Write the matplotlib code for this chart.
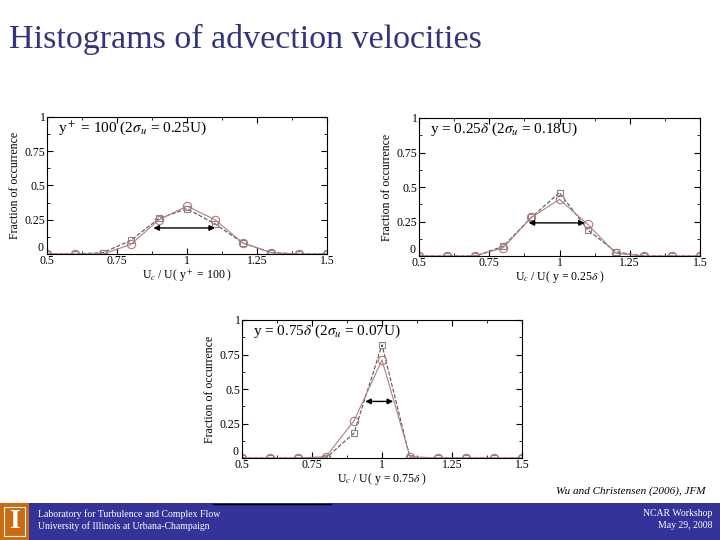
import numpy as np
import matplotlib
matplotlib.use('Agg')
import matplotlib.pyplot as plt
from matplotlib.patches import Rectangle
from matplotlib.ticker import MultipleLocator, FuncFormatter, FormatStrFormatter

# datos
x_vals = [0.5, 0.6, 0.7, 0.8, 0.9, 1.0, 1.1, 1.2, 1.3, 1.4, 1.5]

circ_100 = [0.0, 0.0, 0.0, 0.07, 0.25, 0.35, 0.25, 0.08, 0.01, 0.0, 0.0]
sq_100 = [0.0, 0.0, 0.01, 0.10, 0.26, 0.33, 0.22, 0.08, 0.01, 0.0, 0.0]

circ_025 = [0.0, 0.0, 0.0, 0.06, 0.28, 0.41, 0.23, 0.02, 0.0, 0.0, 0.0]
sq_025 = [0.0, 0.0, 0.0, 0.07, 0.28, 0.46, 0.19, 0.03, 0.0, 0.0, 0.0]

circ_075 = [0.0, 0.0, 0.0, 0.01, 0.27, 0.71, 0.01, 0.0, 0.0, 0.0, 0.0]
sq_075 = [0.0, 0.0, 0.0, 0.0, 0.18, 0.82, 0.0, 0.0, 0.0, 0.0, 0.0]

titulos = [r'y$^+$ = 100 (2$\sigma_u$ = 0.25U)',
           r'y = 0.25$\delta$ (2$\sigma_u$ = 0.18U)',
           r'y = 0.75$\delta$ (2$\sigma_u$ = 0.07U)']
xlabels = [r'U$_c$ / U( y$^+$ = 100 )',
           r'U$_c$ / U( y = 0.25$\delta$ )',
           r'U$_c$ / U( y = 0.75$\delta$ )']
flechas = [(0.88, 1.10, 0.19), (0.89, 1.09, 0.24), (0.94, 1.04, 0.41)]

plt.rcParams['font.family'] = ['Liberation Serif', 'DejaVu Serif']
plt.rcParams['mathtext.fontset'] = 'stix'

fig = plt.figure(figsize=[7.2, 5.4], dpi=100)
W, H = 720.0, 540.0

# titulo
fig.text(9/W, 1 - 48/H, 'Histograms of advection velocities', fontsize=24.5,
         color='#333380', ha='left', va='baseline')

posiciones = [(47, 254, 280, 137), (419, 256, 281, 138), (242, 458, 280, 138)]
series = [(circ_100, sq_100), (circ_025, sq_025), (circ_075, sq_075)]

# el "0" del eje y se pone aparte para que no pise el "0.5"
fmt_y = FuncFormatter(lambda v, p: '' if v == 0 else '%g' % v)

for i in range(3):
    l, b, w, h = posiciones[i]
    ax = fig.add_axes([l/W, 1 - b/H, w/W, h/H])
    circ, sq = series[i]
    ax.plot(x_vals, sq, linestyle='--', color='#555555', linewidth=0.8,
            marker='s', markersize=5, markerfacecolor='none',
            markeredgecolor='#888888', markeredgewidth=0.8)
    ax.plot(x_vals, circ, linestyle='-', color='#b08080', linewidth=0.8,
            marker='o', markersize=6, markerfacecolor='none',
            markeredgecolor='#b07878', markeredgewidth=0.8)
    x0, x1, ya = flechas[i]
    ax.annotate('', xy=(x1, ya), xytext=(x0, ya),
                arrowprops=dict(arrowstyle='<|-|>', color='black', lw=1.0,
                                mutation_scale=8, shrinkA=0, shrinkB=0))
    ax.set_xlim(0.5, 1.5)
    ax.set_ylim(0, 1)
    ax.xaxis.set_major_locator(MultipleLocator(0.25))
    ax.yaxis.set_major_locator(MultipleLocator(0.25))
    ax.xaxis.set_minor_locator(MultipleLocator(0.125))
    ax.yaxis.set_minor_locator(MultipleLocator(0.125))
    ax.xaxis.set_major_formatter(FormatStrFormatter('%g'))
    ax.yaxis.set_major_formatter(fmt_y)
    ax.tick_params(which='both', direction='in', top=True, right=True,
                   labelsize=8.5, pad=1)
    ax.tick_params(which='major', length=4)
    ax.tick_params(which='minor', length=2)
    ax.text(-0.012, 0.0, '0', transform=ax.transAxes, fontsize=8.5,
            ha='right', va='bottom')
    for s in ax.spines.values():
        s.set_linewidth(0.8)
    ax.set_ylabel('Fraction of occurrence', fontsize=8.5, labelpad=3)
    ax.set_xlabel(xlabels[i], fontsize=8.5, labelpad=0)
    ax.text(0.04, 0.92, titulos[i], transform=ax.transAxes, fontsize=11,
            ha='left', va='center')

# cita
fig.text(706/W, 1 - 491/H, 'Wu and Christensen (2006), JFM', fontsize=8,
         style='italic', ha='right', va='center')

# barra inferior
fig.patches.append(Rectangle((0, 0), 1, 37/H, transform=fig.transFigure,
                             facecolor='#333399', edgecolor='none'))
fig.patches.append(Rectangle((0, 0), 29/W, 37/H, transform=fig.transFigure,
                             facecolor='#cc6a10', edgecolor='none'))
fig.patches.append(Rectangle((4/W, 4/H), 21/W, 29/H, transform=fig.transFigure,
                             facecolor='none', edgecolor='white', linewidth=0.8))
fig.text(14.5/W, 18.5/H, 'I', fontsize=20, color='white', ha='center',
         va='center', fontweight='bold')
fig.add_artist(plt.Line2D([213/W, 331/W], [1 - 504/H, 1 - 504/H],
                          color='black', linewidth=1.0))

fig.text(38/W, 1 - 514/H, 'Laboratory for Turbulence and Complex Flow',
         fontsize=7, color='white', ha='left', va='center')
fig.text(38/W, 1 - 526/H, 'University of Illinois at Urbana-Champaign',
         fontsize=7, color='white', ha='left', va='center')
fig.text(712/W, 1 - 514/H, 'NCAR Workshop', fontsize=7, color='white',
         ha='right', va='center')
fig.text(712/W, 1 - 526/H, 'May 29, 2008', fontsize=7, color='white',
         ha='right', va='center')

plt.savefig('out.png', dpi=100)
